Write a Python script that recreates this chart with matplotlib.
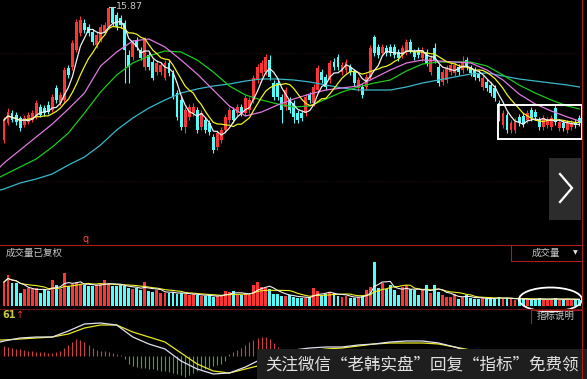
import numpy as np
import pandas as pd
import matplotlib
matplotlib.use('Agg')
import matplotlib.pyplot as plt
from matplotlib.patches import Rectangle, Ellipse

plt.rcParams['font.family'] = ['Noto Sans CJK SC', 'DejaVu Sans']

# ---------------- data ----------------
opens = [9.20, 10.05, 10.55, 10.45, 10.30, 9.95, 10.10, 10.20, 10.35, 10.85,
         10.80, 10.95, 10.70, 11.80, 11.05, 11.20, 12.80, 12.85, 13.70, 14.55,
         15.05, 14.85, 14.60, 13.95, 14.20, 14.60, 14.85, 15.80, 15.45, 15.30,
         15.05, 13.45, 13.35, 14.20, 13.70, 12.85, 13.45, 13.10, 12.60, 12.60,
         12.30, 13.05, 12.55, 11.55, 11.20, 9.85, 10.35, 10.55, 10.70, 9.85,
         10.20, 10.05, 9.35, 8.85, 9.20, 9.70, 10.20, 10.70, 10.55, 10.85,
         10.55, 10.70, 11.20, 12.20, 12.55, 12.60, 13.20, 12.05, 12.05, 11.35,
         10.85, 11.20, 11.05, 10.55, 10.55, 10.55, 11.45, 11.05, 11.70, 12.60,
         12.35, 12.20, 13.10, 13.35, 12.60, 12.70, 12.85, 12.60, 11.80, 11.85,
         11.85, 12.35, 14.35, 13.85, 13.55, 13.80, 13.85, 13.85, 13.60, 13.45,
         13.60, 14.10, 13.60, 13.70, 13.30, 13.60, 12.60, 13.80, 12.85, 12.10,
         12.20, 12.60, 12.55, 12.85, 12.70, 13.20, 12.80, 12.70, 12.55, 11.85,
         12.10, 11.95, 11.80, 11.05, 9.95, 10.45, 9.70, 9.70, 10.35, 10.40,
         10.20, 10.70, 10.60, 10.20, 9.85, 9.95, 9.85, 10.80, 9.80, 10.05,
         9.70, 9.85, 10.10, 10.30]
closes = [10.20, 10.60, 10.20, 10.10, 9.80, 10.30, 10.45, 10.55, 11.05, 10.45,
          10.55, 10.60, 11.35, 11.20, 11.45, 12.70, 12.45, 14.05, 15.10, 15.20,
          14.70, 14.55, 14.10, 14.45, 14.85, 14.95, 15.80, 15.05, 14.85, 14.95,
          13.70, 12.85, 14.05, 13.85, 13.30, 14.20, 12.85, 12.30, 13.05, 12.95,
          13.05, 12.55, 11.35, 10.35, 9.85, 10.70, 10.85, 10.85, 9.70, 10.55,
          9.70, 9.60, 8.70, 9.55, 9.70, 10.35, 10.70, 10.20, 10.85, 10.55,
          11.30, 11.20, 12.30, 12.85, 13.05, 13.35, 12.35, 11.35, 11.35, 10.70,
          11.70, 10.70, 10.35, 10.20, 10.30, 11.35, 11.20, 11.85, 12.80, 12.20,
          11.85, 13.05, 12.85, 12.85, 12.95, 13.10, 12.60, 12.05, 12.20, 11.45,
          12.35, 13.80, 13.55, 13.45, 13.85, 13.55, 13.55, 13.45, 13.30, 13.80,
          14.10, 13.70, 13.35, 13.45, 13.70, 13.05, 13.30, 13.20, 12.05, 12.60,
          12.80, 12.95, 12.95, 12.60, 13.10, 12.85, 12.55, 12.35, 12.30, 12.30,
          11.80, 11.55, 11.30, 10.30, 10.55, 9.70, 10.05, 10.10, 10.05, 10.00,
          10.55, 10.30, 10.35, 9.85, 10.30, 10.20, 10.30, 10.10, 10.10, 9.80,
          10.05, 10.05, 9.95, 10.05]
highs = [10.35, 10.80, 10.70, 10.60, 10.40, 10.45, 10.60, 10.70, 11.20, 11.00,
         10.95, 11.15, 11.50, 11.95, 11.60, 12.85, 12.95, 14.20, 15.25, 15.40,
         15.25, 15.00, 14.75, 14.60, 15.00, 15.10, 15.87, 15.84, 15.60, 15.45,
         15.20, 13.70, 14.20, 14.35, 13.85, 14.35, 13.60, 13.25, 13.20, 13.10,
         13.20, 13.20, 12.70, 11.70, 11.35, 10.85, 11.00, 11.05, 10.85, 10.70,
         10.35, 10.20, 9.50, 9.70, 9.85, 10.50, 10.85, 10.85, 11.00, 11.00,
         11.45, 11.35, 12.45, 13.00, 13.20, 13.50, 13.45, 12.20, 12.20, 11.50,
         11.85, 11.35, 11.20, 10.70, 10.70, 11.50, 11.60, 12.00, 12.95, 12.75,
         12.50, 13.20, 13.30, 13.50, 13.10, 13.25, 13.00, 12.75, 12.35, 12.00,
         12.50, 13.95, 14.45, 14.00, 14.00, 13.95, 14.00, 14.00, 13.75, 13.95,
         14.25, 14.25, 13.75, 13.85, 13.85, 13.75, 13.45, 14.05, 13.00, 12.75,
         12.95, 13.10, 13.10, 13.00, 13.40, 13.35, 12.95, 12.85, 12.70, 12.45,
         12.25, 12.10, 11.95, 11.20, 10.70, 10.60, 10.20, 10.30, 10.50, 10.55,
         10.70, 10.85, 10.75, 10.35, 10.45, 10.35, 10.45, 11.00, 10.25, 10.20,
         10.20, 10.20, 10.25, 10.45]
lows = [9.05, 9.95, 10.10, 9.95, 9.65, 9.85, 10.00, 10.10, 10.25, 10.35,
        10.40, 10.50, 10.60, 11.05, 10.95, 11.10, 12.30, 12.70, 13.60, 14.40,
        14.55, 14.40, 13.95, 13.80, 14.10, 14.50, 14.75, 14.90, 14.70, 14.80,
        12.05, 12.05, 13.20, 13.70, 13.20, 12.70, 12.70, 12.20, 12.45, 12.45,
        12.20, 12.40, 11.25, 10.20, 9.70, 9.55, 10.20, 10.40, 9.55, 9.70,
        9.55, 9.45, 8.55, 8.70, 9.05, 9.55, 10.05, 10.05, 10.40, 10.40,
        10.40, 10.55, 11.05, 12.05, 12.40, 12.45, 12.20, 11.20, 11.20, 10.05,
        10.70, 10.55, 10.05, 10.05, 10.15, 10.40, 11.05, 10.90, 11.55, 12.05,
        11.70, 12.05, 12.70, 12.70, 12.45, 12.55, 12.45, 11.90, 11.65, 11.30,
        11.70, 12.20, 13.40, 13.30, 13.40, 13.40, 13.40, 13.30, 13.15, 13.30,
        13.45, 13.55, 13.20, 13.30, 13.15, 12.90, 12.45, 13.05, 11.90, 11.95,
        12.05, 12.45, 12.40, 12.45, 12.55, 12.70, 12.40, 12.20, 12.15, 11.70,
        11.65, 11.40, 11.15, 10.15, 9.80, 9.55, 9.55, 9.55, 9.90, 9.85,
        10.05, 10.15, 10.20, 9.70, 9.70, 9.80, 9.70, 9.95, 9.65, 9.65,
        9.55, 9.70, 9.80, 9.90]
volume = [24, 31, 23, 23, 13, 17, 18, 17, 18, 13,
          17, 15, 26, 21, 17, 33, 20, 22, 24, 22,
          21, 20, 20, 21, 22, 26, 22, 20, 20, 21,
          20, 18, 17, 18, 16, 24, 15, 14, 16, 13,
          13, 13, 14, 12, 13, 12, 11, 12, 11, 10,
          10, 11, 9, 10, 11, 15, 14, 15, 11, 11,
          12, 11, 21, 24, 19, 18, 17, 12, 12, 10,
          10, 11, 9, 8, 8, 8, 9, 18, 15, 10,
          12, 14, 13, 10, 9, 10, 8, 8, 9, 10,
          16, 19, 44, 18, 23, 17, 21, 16, 11, 19,
          21, 17, 16, 11, 16, 21, 13, 21, 14, 11,
          9, 9, 12, 7, 9, 11, 8, 7, 7, 8,
          7, 8, 8, 9, 7, 8, 7, 6, 7, 7,
          7, 6, 7, 8, 7, 6, 7, 8, 6, 7,
          7, 6, 7, 6]
# moving averages at these candle indices
ma_idx = [-1, 0, 4, 8, 12, 16, 20, 24, 28, 32, 36, 40, 44, 48, 52, 56, 60, 64, 68,
          72, 76, 80, 84, 88, 92, 96, 100, 104, 108, 112, 116, 120, 124, 128, 132,
          136, 140, 143]
ma20 = [7.85, 8.05, 8.70, 9.35, 10.00, 10.75, 11.55, 12.90, 13.60, 14.15, 14.25,
        13.85, 13.20, 12.50, 11.70, 10.90, 10.40, 10.60, 10.95, 11.25, 11.50, 11.70,
        11.80, 11.90, 12.30, 12.70, 13.05, 13.20, 13.15, 13.10, 13.05, 12.70, 12.20,
        11.50, 11.00, 10.65, 10.35, 10.15]
ma30 = [7.35, 7.45, 7.85, 8.25, 8.85, 9.55, 10.55, 11.60, 12.45, 13.05, 13.40,
        13.65, 13.60, 13.20, 12.60, 11.90, 11.45, 11.20, 11.00, 10.85, 10.90, 11.25,
        11.60, 11.85, 12.05, 12.20, 12.65, 13.00, 13.10, 13.10, 13.10, 12.90, 12.45,
        11.95, 11.55, 11.20, 10.90, 10.75]
ma60 = [6.70, 6.75, 7.05, 7.25, 7.50, 7.95, 8.35, 8.95, 9.70, 10.30, 10.80, 11.20,
        11.55, 11.75, 11.90, 12.00, 12.15, 12.25, 12.25, 12.20, 12.10, 11.95, 11.80,
        11.70, 11.70, 11.70, 11.85, 12.05, 12.20, 12.35, 12.50, 12.55, 12.40, 12.25,
        12.15, 12.05, 11.95, 11.85]
dif = [0.14, 0.15, 0.18, 0.19, 0.19, 0.25, 0.32, 0.33, 0.31, 0.19, 0.12, 0.07,
       -0.05, -0.13, -0.18, -0.17, -0.11, -0.03, 0.03, 0.06, 0.08, 0.09, 0.09, 0.11,
       0.12, 0.14, 0.15, 0.15, 0.13, 0.09, 0.04, 0.00, -0.06, -0.11, -0.14, -0.16,
       -0.16, -0.15]
dea = [0.16, 0.16, 0.17, 0.18, 0.19, 0.22, 0.28, 0.31, 0.31, 0.24, 0.19, 0.14,
       0.03, -0.08, -0.15, -0.17, -0.13, -0.09, -0.04, 0.01, 0.05, 0.07, 0.08, 0.10,
       0.12, 0.13, 0.13, 0.13, 0.12, 0.09, 0.06, 0.03, -0.01, -0.05, -0.08, -0.11,
       -0.12, -0.13]
macd_hist = [0.10, 0.09, 0.08, 0.07, 0.07,
             0.06, 0.05, 0.05, 0.04, 0.04, 0.04, 0.03, 0.03, 0.04, 0.05,
             0.08, 0.11, 0.14, 0.17, 0.16, 0.14, 0.11, 0.08,
             0.06, 0.05, 0.05, 0.04, 0.03, 0.02, 0.01,
             -0.03, -0.08, -0.10, -0.11, -0.12, -0.12, -0.13, -0.13, -0.14, -0.15,
             -0.15, -0.16, -0.17, -0.18, -0.19, -0.21, -0.19, -0.17, -0.15, -0.14,
             -0.13, -0.12, -0.10, -0.09, -0.08, -0.05,
             0.02, 0.04, 0.06, 0.08, 0.11, 0.14, 0.16, 0.18, 0.19, 0.19, 0.17, 0.13, 0.09, 0.05,
             0.03, 0.02, 0.01, -0.01, -0.02, -0.03, -0.02, -0.01, 0.01, 0.03,
             0.04, 0.05, 0.05, 0.04, 0.03, 0.02, 0.01, 0.00, -0.01, -0.01,
             0.01, 0.03, 0.05, 0.06, 0.05, 0.04, 0.03, 0.02, 0.02, 0.01,
             0.00, -0.01, -0.01, -0.01, 0.00, 0.01, 0.01, 0.00, -0.01, -0.02,
             -0.03, -0.03, -0.04, -0.03, -0.03, -0.02, -0.02, -0.01, -0.01, -0.02,
             -0.03, -0.05, -0.07, -0.08, -0.08, -0.07, -0.06, -0.05, -0.04, -0.03,
             -0.03, -0.02, -0.02, -0.01, -0.01, 0.00, 0.00, 0.01, 0.01, 0.01,
             0.01, 0.01, 0.01, 0.01]

panel_title = '成交量已复权'
vol_menu = '成交量'
help_label = '指标说明'
macd_tag = '61'
watermark = '关注微信“老韩实盘”回复“指标”免费领'

# ---------------- styles ----------------
W, H = 587, 379
RED = '#ff3434'
CYAN = '#54fcfc'
GRID_RED = '#a81e1e'
STEP = 4.024  # px per candle
X_FIRST = 4   # px of first candle

fig = plt.figure(figsize=(W / 100, H / 100), dpi=100)
fig.patch.set_facecolor('black')


def ax_px(top, bottom, z=1):
    a = fig.add_axes([0, 1 - bottom / H, 1, (bottom - top) / H], zorder=z)
    a.set_xlim(-X_FIRST / STEP, (W - X_FIRST) / STEP)
    a.axis('off')
    a.patch.set_visible(False)
    return a


# background overlay (grid lines)
bg = fig.add_axes([0, 0, 1, 1], zorder=0)
bg.set_xlim(0, W)
bg.set_ylim(H, 0)
bg.axis('off')
bg.set_facecolor('black')
for gy in (53, 117, 181):
    bg.plot([0, 581], [gy, gy], color='#300a0a', lw=0.7, ls=(0, (1, 2)))

o = np.array(opens)
c = np.array(closes)
h = np.array(highs)
l = np.array(lows)
n = len(c)
idx = np.arange(n)
up = c >= o
cols = np.where(up, RED, CYAN)

# ---------------- price panel ----------------
ax = ax_px(0, 245)
ax.set_ylim(3.95, 16.2)
ax.vlines(idx, l, h, colors=cols, lw=0.8, zorder=2)
ax.bar(idx, np.maximum(np.abs(c - o), 0.04), bottom=np.minimum(o, c), width=0.72,
       color=cols, linewidth=0, zorder=2)
s = pd.Series(c)
ma5 = s.rolling(5, min_periods=1).mean()
ma10 = s.rolling(10, min_periods=1).mean()
ax.plot(ma_idx, ma60, color='#38b8c8', lw=0.9, zorder=3)
ax.plot(ma_idx, ma30, color='#1ec81e', lw=0.9, zorder=3)
ax.plot(ma_idx, ma20, color='#e078e0', lw=0.9, zorder=3)
ax.plot(idx, ma10, color='#f0f020', lw=0.9, zorder=3)
ax.plot(idx, ma5, color='#f0f0f0', lw=0.9, zorder=3)

ipk = int(np.argmax(h))
ax.plot([ipk, ipk + 1.6], [h[ipk], h[ipk]], color='#c8c8c8', lw=0.8, zorder=4)
ax.text(ipk + 1.8, h[ipk], f'{h[ipk]:.2f}', color='#c8c8c8', fontsize=6.8,
        family='DejaVu Sans', va='center', ha='left', zorder=4)

# ---------------- volume panel ----------------
av = ax_px(245, 308)
av.set_ylim(-2, 61)
av.bar(idx, volume, width=0.72, color=cols, linewidth=0, zorder=2)
vs = pd.Series(volume, dtype=float)
av.plot(idx, vs.rolling(10, min_periods=1).mean(), color='#f0f020', lw=0.8, zorder=3)
av.plot(idx, vs.rolling(5, min_periods=1).mean(), color='#f0f0f0', lw=0.8, zorder=3)

# ---------------- MACD panel ----------------
am = ax_px(308, 379)
am.set_ylim(-0.23, 0.48)
hist = np.array(macd_hist)
am.vlines(idx, 0, hist, colors=np.where(hist >= 0, '#d04040', '#30b030'), lw=0.8, zorder=2)
am.plot(ma_idx, dea, color='#e8e820', lw=0.9, zorder=3)
am.plot(ma_idx, dif, color='#e0e0f0', lw=0.9, zorder=3)

# ---------------- front overlay ----------------
ov = fig.add_axes([0, 0, 1, 1], zorder=5)
ov.set_xlim(0, W)
ov.set_ylim(H, 0)
ov.axis('off')
ov.patch.set_visible(False)

ov.plot([0, 581], [245, 245], color=GRID_RED, lw=0.8)
ov.plot([0, 581], [308.5, 308.5], color='#6a1212', lw=0.8)
ov.plot([581.5, 581.5], [0, 379], color=GRID_RED, lw=0.8)
ov.plot([511, 511, 581], [245, 261, 261], color=GRID_RED, lw=0.8)
ov.plot([581, 531, 531], [310, 310, 323], color=GRID_RED, lw=0.8)

ov.text(86, 239, 'q', color='#ff4040', fontsize=7, family='DejaVu Sans',
        ha='center', va='center')
ov.text(6, 253, panel_title, color='#c8c8c8', fontsize=6.8, ha='left', va='center')
ov.text(546, 253, vol_menu, color='#c8c8c8', fontsize=6.8, ha='center', va='center')
ov.text(575, 253, '▼', color='#e0e0e0', fontsize=4.5, family='DejaVu Sans',
        ha='center', va='center')
ov.text(556, 316, help_label, color='#c8c8c8', fontsize=6.8, ha='center', va='center')
ov.text(2, 315, macd_tag, color='#c8c832', fontsize=7, family='DejaVu Sans',
        ha='left', va='center', fontweight='bold')
ov.text(16, 315, '↑', color='#ff3030', fontsize=7, family='DejaVu Sans',
        ha='left', va='center')

# navigation button
ov.add_patch(Rectangle((549, 158), 32, 62, facecolor='#2c2c2c', edgecolor='none'))
ov.plot([560, 572, 560], [174, 188, 202], color='white', lw=1.6,
        solid_joinstyle='miter')

# highlight marks
ov.add_patch(Rectangle((497.5, 104.5), 84.5, 34, facecolor='none',
                       edgecolor='white', lw=1.4))
ov.add_patch(Ellipse((550.5, 299.5), 63, 24, facecolor='none',
                     edgecolor='white', lw=1.3))

# watermark
ov.add_patch(Rectangle((257, 349), 330, 30, facecolor='#1e1e1e', edgecolor='none'))
ov.text(265, 365, watermark, color='#e2e2e2', fontsize=11.9, ha='left', va='center')

fig.savefig('out.png', dpi=100, facecolor='black')
